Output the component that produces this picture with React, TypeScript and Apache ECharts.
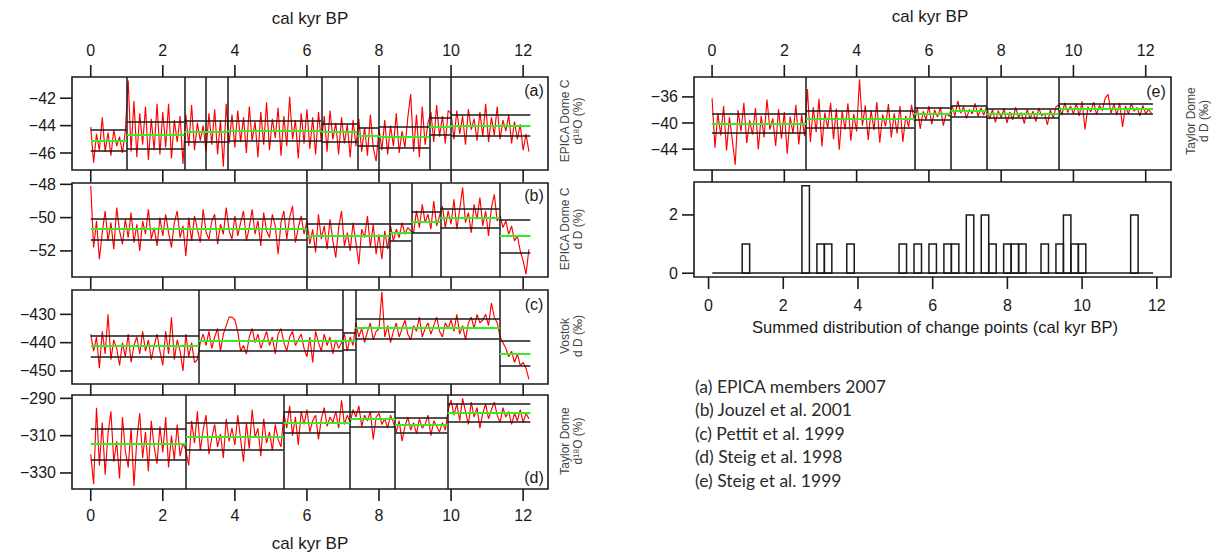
import React, { useEffect, useRef } from 'react';
import * as echarts from 'echarts';

const STEP = 0.08;
const END = 12.2;
const X_TICKS = [0, 2, 4, 6, 8, 10, 12];

// (a) EPICA Dome C d18O
const aRed = [
  -44.1, -46.7, -44.6, -45.8, -43.4, -45.9, -44.5, -46.2, -44.3, -45.5, -44.8, -46.0, -44.4, -40.7, -45.9, -42.2, -46.3, -43.1, -45.4, -42.6, -46.5, -43.5, -45.8, -42.4, -46.1,
  -43.0, -45.6, -42.4, -46.4, -43.6, -45.2, -43.3, -46.8, -43.2, -45.5, -42.5, -45.8, -43.8, -45.1, -44.0, -45.9, -43.1, -45.4, -42.8, -46.1, -43.6, -47.0, -42.4, -45.3, -43.2,
  -45.6, -42.9, -45.2, -43.4, -46.0, -42.6, -45.1, -43.7, -46.3, -43.0, -45.4, -42.3, -45.8, -43.5, -44.9, -42.7, -46.2, -43.3, -45.5, -41.9, -45.0, -43.6, -46.4, -43.1, -45.3,
  -42.8, -45.7, -43.4, -46.1, -43.0, -45.2, -43.3, -45.9, -42.9, -45.0, -43.8, -46.1, -43.4, -45.3, -43.9, -46.3, -43.6, -45.5, -43.5, -45.9, -44.1, -46.2, -43.2, -45.6, -46.6,
  -44.2, -45.8, -43.6, -46.1, -44.0, -45.5, -43.1, -46.0, -44.4, -45.6, -43.4, -41.7, -45.9, -43.2, -46.3, -42.6, -45.4, -43.8, -43.0, -45.2, -42.5, -44.8, -43.3, -45.3, -42.9,
  -43.1, -45.0, -42.9, -44.6, -43.3, -45.4, -42.8, -44.3, -43.5, -45.1, -43.0, -44.8, -42.4, -45.2, -43.4, -44.7, -42.6, -45.0, -43.6, -44.4, -43.2, -45.3, -43.7, -45.0, -43.9,
  -45.8, -44.6, -45.9,
];
const aBreaks = [1.0, 2.6, 3.2, 3.8, 6.4, 7.4, 8.0, 9.4, 10.0];
const aMean = [-45.07, -44.65, -44.45, -44.42, -44.4, -44.48, -44.77, -44.82, -44.09, -43.99];
const aUpper = [-44.33, -43.74, -43.67, -43.62, -43.67, -43.84, -44.16, -44.09, -43.45, -43.23];
const aLower = [-45.8, -45.68, -45.2, -45.15, -45.07, -45.19, -45.44, -45.6, -44.65, -44.72];

// (b) EPICA Dome C dD
const bRed = [
  -48.1, -51.8, -50.2, -52.5, -50.9, -49.6, -51.4, -50.3, -51.9, -49.4, -50.8, -51.6, -50.1, -51.2, -49.7, -51.5, -50.4, -52.0, -50.2, -51.0, -49.5, -51.3, -50.6, -51.7, -50.0,
  -51.1, -49.8, -50.9, -51.8, -50.3, -49.6, -51.2, -50.5, -52.3, -50.0, -51.4, -49.9, -50.7, -51.5, -49.5, -50.9, -51.3, -50.2, -49.8, -51.6, -50.4, -51.0, -49.4, -50.8, -51.3,
  -49.9, -51.1, -50.3, -49.6, -51.4, -50.6, -49.5, -51.0, -50.2, -51.7, -49.7, -50.8, -51.2, -49.8, -50.5, -52.2, -50.3, -49.6, -51.3, -50.0, -49.3, -51.5, -50.6, -49.9, -51.0,
  -50.2, -51.6, -50.7, -52.1, -49.8, -51.3, -50.5, -51.9, -50.1, -51.4, -52.4, -50.6, -49.6, -51.7, -50.9, -52.0, -50.3, -51.5, -52.8, -50.7, -51.2, -49.9, -51.8, -50.4, -52.2,
  -51.0, -52.5, -50.8, -51.9, -50.5, -51.4, -50.7, -51.2, -50.3, -51.0, -50.6, -50.8, -50.9, -49.6, -50.6, -49.2, -50.3, -49.8, -50.7, -49.0, -50.5, -49.9, -49.3, -50.6, -49.6,
  -50.4, -48.9, -50.7, -49.5, -48.2, -50.3, -49.7, -50.9, -49.2, -50.1, -48.8, -50.5, -49.6, -51.1, -49.4, -48.6, -50.2, -49.9, -50.6, -50.2, -51.0, -50.5, -51.4, -51.1, -52.0,
  -52.6, -53.4, -51.9,
];
const bBreaks = [6.0, 8.3, 8.9, 9.7, 11.35];
const bMean = [-50.65, -51.08, -50.9, -50.26, -50.0, -51.08];
const bUpper = [-50.04, -50.39, -50.35, -49.65, -49.45, -50.14];
const bLower = [-51.32, -51.77, -51.38, -50.89, -50.61, -52.13];

// (c) Vostok dD
const cRed = [
  -437, -443, -438, -449, -436, -444, -430, -446, -439, -442, -448, -440, -445, -437, -447, -441, -438, -444, -436, -443, -439, -446, -441, -437, -443,
  -448, -436, -444, -431, -446, -439, -443, -450, -437, -445, -440, -447, -446, -440, -437, -441, -436, -442, -438, -435, -443, -437, -434, -431, -431,
  -432, -436, -443, -441, -444, -438, -435, -440, -437, -442, -439, -436, -441, -438, -444, -437, -435, -440, -443, -438, -436, -441, -439, -437, -442,
  -445, -438, -447, -436, -440, -443, -437, -441, -438, -444, -439, -442, -440, -437, -443, -438, -441, -433, -438, -435, -440, -436, -433, -439, -436,
  -435, -422, -438, -434, -440, -436, -433, -438, -435, -432, -437, -439, -434, -436, -431, -438, -435, -433, -437, -434, -431, -436, -438, -433, -435,
  -432, -436, -430, -437, -434, -439, -433, -431, -435, -430, -433, -432, -430, -434, -426, -431, -433, -438, -440, -442, -445, -443, -447, -444, -448,
  -447, -449, -453,
];
const cBreaks = [3.0, 7.0, 7.35, 11.35];
const cMean = [-441.2, -439.2, -439.4, -434.9, -443.9];
const cUpper = [-437.4, -435.3, -436.5, -431.4, -439.2];
const cLower = [-445.1, -442.7, -442.4, -438.5, -448.2];

// (d) Taylor Dome d18O
const dRed = [
  -320, -336, -295, -326, -303, -331, -309, -297, -324, -313, -333, -300, -318, -327, -306, -337, -312, -298, -322, -308, -329, -302, -316, -325, -305,
  -319, -300, -327, -310, -323, -304, -321, -314, -318, -326, -302, -314, -297, -318, -307, -299, -320, -311, -304, -316, -309, -322, -301, -313, -306,
  -315, -299, -312, -324, -303, -317, -296, -311, -306, -321, -301, -314, -308, -318, -304, -312, -316, -298, -306, -294, -310, -300, -315, -297, -304,
  -296, -308, -302, -299, -312, -301, -295, -305, -300, -303, -297, -306, -291, -304, -299, -303, -296, -300, -294, -305, -299, -302, -297, -312, -300,
  -298, -304, -301, -306, -299, -303, -308, -302, -313, -305, -300, -307, -303, -309, -301, -306, -304, -299, -310, -302, -305, -308, -303, -307, -296,
  -291, -299, -293, -302, -290, -297, -304, -292, -300, -295, -306, -298, -293, -301, -296, -292, -299, -303, -295, -300, -297, -304, -298, -302, -296,
  -303, -298, -301,
];
const dBreaks = [2.65, 5.35, 7.2, 8.45, 9.9];
const dMean = [-314.4, -310.4, -302.9, -301.1, -304.1, -297.9];
const dUpper = [-306.4, -303.3, -297.2, -297.0, -300.2, -293.0];
const dLower = [-323.1, -317.5, -308.6, -305.4, -308.2, -302.7];

// (e) Taylor Dome dD
const eRed = [
  -36.2, -43.8, -38.5, -41.9, -37.4, -44.2, -39.1, -42.6, -46.4, -38.0, -41.3, -36.9, -43.1, -39.6, -41.8, -37.7, -44.0, -38.9, -42.2, -36.4, -41.0, -39.3, -43.5, -37.9, -42.4,
  -38.3, -44.7, -39.0, -41.6, -37.2, -43.3, -38.8, -42.0, -34.8, -42.9, -37.6, -41.4, -36.3, -43.6, -38.4, -40.8, -36.9, -42.5, -37.8, -44.1, -38.2, -41.0, -37.0, -42.7, -38.6,
  -41.3, -33.3, -40.4, -37.3, -42.6, -38.0, -41.1, -36.8, -43.0, -38.7, -40.5, -37.1, -42.2, -38.5, -41.6, -37.4, -42.9, -38.9, -40.6, -37.2, -39.8, -37.6, -40.9, -38.2, -39.5,
  -37.4, -40.2, -38.0, -39.1, -37.6, -40.4, -38.5, -39.0, -37.3, -38.9, -36.6, -38.5, -37.5, -39.3, -37.9, -38.6, -37.0, -39.0, -37.7, -38.8, -37.4, -39.4, -37.9, -39.9, -38.1,
  -39.2, -37.8, -40.0, -38.3, -39.5, -37.6, -39.1, -38.4, -40.1, -37.9, -39.3, -38.2, -39.8, -37.7, -38.9, -38.5, -40.3, -38.0, -39.2, -37.5, -37.2, -38.8, -36.9, -38.4, -37.4,
  -38.6, -37.0, -38.9, -36.7, -41.0, -37.5, -38.3, -36.8, -38.7, -37.3, -38.1, -36.2, -35.6, -38.5, -37.1, -38.8, -36.9, -40.6, -37.4, -38.6, -37.0, -38.2, -37.6, -38.9, -37.3,
  -38.6, -37.9, -38.5,
];
const eBreaks = [2.6, 5.6, 6.6, 7.6, 9.6];
const eMean = [-40.15, -39.39, -38.62, -38.1, -38.62, -37.86];
const eUpper = [-38.62, -38.11, -37.7, -37.35, -37.86, -37.09];
const eLower = [-41.53, -40.77, -39.49, -38.98, -39.23, -38.62];

// Summed distribution of change points
const histX = [1.0, 2.6, 3.0, 3.2, 3.8, 5.2, 5.6, 6.0, 6.4, 6.6, 7.0, 7.4, 7.6, 8.0, 8.2, 8.4, 9.0, 9.4, 9.6, 9.8, 10.0, 11.4];
const histN = [1, 3, 1, 1, 1, 1, 1, 1, 1, 1, 2, 2, 1, 1, 1, 1, 1, 1, 2, 1, 1, 2];
const HIST_BIN = 0.2;
const histBase = [0.1, 11.9];
const HIST_Y_TICKS = [0, 2];

const refs = [
  '(a) EPICA members 2007',
  '(b) Jouzel et al. 2001',
  '(c) Pettit et al. 1999',
  '(d) Steig et al. 1998',
  '(e) Steig et al. 1999',
];

const FONT = '"Liberation Sans", Arial, Helvetica, sans-serif';
const INK = '#1a1a1a';
const T = 12; // tick length in px
const TW = 1.6; // tick width in px

type Frame = { box: number[]; xr: number[]; yr: number[]; top: boolean; bottom: boolean; yt: number[] };

const panels = [
  { red: aRed, breaks: aBreaks, mean: aMean, upper: aUpper, lower: aLower, f: { box: [72, 77, 476, 93], xr: [-0.52, 12.69], yr: [-47.24, -40.45], yt: [-46, -44, -42], top: true, bottom: true } },
  { red: bRed, breaks: bBreaks, mean: bMean, upper: bUpper, lower: bLower, f: { box: [72, 183, 476, 94], xr: [-0.52, 12.69], yr: [-53.57, -47.92], yt: [-52, -50, -48], top: false, bottom: true } },
  { red: cRed, breaks: cBreaks, mean: cMean, upper: cUpper, lower: cLower, f: { box: [72, 290, 476, 94], xr: [-0.52, 12.69], yr: [-454.6, -421.4], yt: [-450, -440, -430], top: false, bottom: true } },
  { red: dRed, breaks: dBreaks, mean: dMean, upper: dUpper, lower: dLower, f: { box: [72, 395, 476, 94], xr: [-0.52, 12.69], yr: [-338.6, -288.2], yt: [-330, -310, -290], top: false, bottom: true } },
  { red: eRed, breaks: eBreaks, mean: eMean, upper: eUpper, lower: eLower, f: { box: [694, 77, 477, 93], xr: [-0.5, 12.7], yr: [-47.2, -32.95], yt: [-44, -40, -36], top: true, bottom: true } },
];
const histFrame: Frame = { box: [694, 182, 477, 95], xr: [-0.39, 12.38], yr: [-0.13, 3.13], yt: HIST_Y_TICKS, top: false, bottom: true };

const fmt = (v: number) => (v < 0 ? '\u2212' : '') + Math.abs(v);

function xAxis(grid: number, pos: string, labels: boolean, range: number[], margin: number) {
  return {
    type: 'value', gridIndex: grid, position: pos, min: range[0], max: range[1],
    axisLine: { show: false, onZero: false }, splitLine: { show: false }, axisTick: { show: false },
    axisLabel: { show: labels, customValues: X_TICKS, margin, fontSize: 16, color: INK, fontFamily: FONT, formatter: fmt },
  };
}
function yAxis(grid: number, range: number[], ticks: number[]) {
  return {
    type: 'value', gridIndex: grid, position: 'left', min: range[0], max: range[1],
    axisLine: { show: false, onZero: false }, splitLine: { show: false }, axisTick: { show: false },
    axisLabel: { show: true, customValues: ticks, margin: 16, fontSize: 16, color: INK, fontFamily: FONT, formatter: fmt },
  };
}
function linesSeries(xi: number, yi: number, data: any[], color: string, width: number, z = 3) {
  return {
    type: 'lines', coordinateSystem: 'cartesian2d', xAxisIndex: xi, yAxisIndex: yi, z, silent: true,
    lineStyle: { color, width, opacity: 1 }, data,
  };
}
function txt(text: string, x: number, y: number, size: number, o: any = {}) {
  return {
    type: 'text', x, y, rotation: o.rot || 0, silent: true, z: 100,
    style: { text, fontSize: size, fontFamily: o.family || FONT, fill: o.fill || INK, align: o.align || 'center', verticalAlign: 'middle' },
  };
}

// outward tick marks of each frame (axis furniture), as small filled rects
function tickElements() {
  const els: any[] = [];
  const frames: Frame[] = [...panels.map((p) => p.f), histFrame];
  frames.forEach((f) => {
    const [l, t, w, h] = f.box;
    const sx = (v: number) => l + ((v - f.xr[0]) / (f.xr[1] - f.xr[0])) * w;
    const sy = (v: number) => t + h - ((v - f.yr[0]) / (f.yr[1] - f.yr[0])) * h;
    if (f.bottom) X_TICKS.forEach((v) => els.push({ type: 'rect', silent: true, z: 90, shape: { x: sx(v) - TW / 2, y: t + h, width: TW, height: T }, style: { fill: INK } }));
    if (f.top) X_TICKS.forEach((v) => els.push({ type: 'rect', silent: true, z: 90, shape: { x: sx(v) - TW / 2, y: t - T, width: TW, height: T }, style: { fill: INK } }));
    f.yt.forEach((v) => els.push({ type: 'rect', silent: true, z: 90, shape: { x: l - T, y: sy(v) - TW / 2, width: T, height: TW }, style: { fill: INK } }));
  });
  return els;
}

function textElements() {
  const side = '#444';
  const els: any[] = [
    txt('cal kyr BP', 310, 18, 17),
    txt('cal kyr BP', 930, 16, 17),
    txt('cal kyr BP', 310, 543, 17),
    txt('Summed distribution of change points (cal kyr BP)', 935, 327, 16.5),
    txt('(a)', 534, 90, 16),
    txt('(b)', 534, 195, 16),
    txt('(c)', 534, 304, 16),
    txt('(d)', 534, 477, 16),
    txt('(e)', 1156, 91, 16),
    txt('EPICA Dome C', 565, 121, 12, { rot: Math.PI / 2, fill: side }),
    txt('d\u00b9\u2078O (%)', 577.5, 121, 12, { rot: Math.PI / 2, fill: side }),
    txt('EPICA Dome C', 565, 229, 12, { rot: Math.PI / 2, fill: side }),
    txt('d D (%)', 577.5, 229, 12, { rot: Math.PI / 2, fill: side }),
    txt('Vostok', 565, 336, 12, { rot: Math.PI / 2, fill: side }),
    txt('d D (\u2030)', 577.5, 336, 12, { rot: Math.PI / 2, fill: side }),
    txt('Taylor Dome', 565, 441, 12, { rot: Math.PI / 2, fill: side }),
    txt('d\u00b9\u2078O (%)', 577.5, 441, 12, { rot: Math.PI / 2, fill: side }),
    txt('Taylor Dome', 1191, 121, 12, { rot: Math.PI / 2, fill: side }),
    txt('d D (\u2030)', 1204, 121, 12, { rot: Math.PI / 2, fill: side }),
  ];
  refs.forEach((r, i) => {
    els.push(txt(r, 695, 386 + i * 23.6, 17.5, { align: 'left', family: 'Lato, "Open Sans", sans-serif', fill: '#2a2a2a' }));
  });
  return els;
}

function buildOption() {
  const frames: Frame[] = [...panels.map((p) => p.f), histFrame];
  const grids = frames.map((f) => ({ left: f.box[0], top: f.box[1], width: f.box[2], height: f.box[3], show: true, borderColor: INK, borderWidth: 1.6, backgroundColor: 'transparent' }));
  const xAxes: any[] = [];
  const yAxes: any[] = [];
  const series: any[] = [];

  const xIdx: number[] = [];
  xIdx[0] = xAxes.length; xAxes.push(xAxis(0, 'bottom', false, panels[0].f.xr, 18));
  xAxes.push(xAxis(0, 'top', true, panels[0].f.xr, 19));
  xIdx[1] = xAxes.length; xAxes.push(xAxis(1, 'bottom', false, panels[1].f.xr, 18));
  xIdx[2] = xAxes.length; xAxes.push(xAxis(2, 'bottom', false, panels[2].f.xr, 18));
  xIdx[3] = xAxes.length; xAxes.push(xAxis(3, 'bottom', true, panels[3].f.xr, 18));
  xIdx[4] = xAxes.length; xAxes.push(xAxis(4, 'bottom', false, panels[4].f.xr, 18));
  xAxes.push(xAxis(4, 'top', true, panels[4].f.xr, 19));
  const histXIdx = xAxes.length; xAxes.push(xAxis(5, 'bottom', true, histFrame.xr, 20));

  panels.forEach((p, k) => yAxes.push(yAxis(k, p.f.yr, p.f.yt)));
  yAxes.push(yAxis(5, histFrame.yr, HIST_Y_TICKS));

  panels.forEach((p, k) => {
    const xi = xIdx[k];
    const starts = [0, ...p.breaks];
    const ends = [...p.breaks, END];
    const seg = (vals: number[]) => vals.map((v, i) => ({ coords: [[starts[i], v], [ends[i], v]] }));
    series.push({
      type: 'line', xAxisIndex: xi, yAxisIndex: k, showSymbol: false, symbol: 'none', z: 2, silent: true,
      lineStyle: { color: '#ff0000', width: 1.15 },
      data: p.red.map((v, i) => [+(i * STEP).toFixed(2), v]),
    });
    series.push(linesSeries(xi, k, p.breaks.map((b) => ({ coords: [[b, p.f.yr[0]], [b, p.f.yr[1]]] })), INK, 1.5, 3));
    series.push(linesSeries(xi, k, [...seg(p.upper), ...seg(p.lower)], INK, 1.6, 3));
    series.push(linesSeries(xi, k, seg(p.mean), '#33ee22', 2, 4));
  });

  series.push({
    type: 'custom', xAxisIndex: histXIdx, yAxisIndex: 5, silent: true, z: 3,
    data: histX.map((x, i) => [x, histN[i]]),
    renderItem: (params: any, api: any) => {
      const x = api.value(0);
      const h = api.value(1);
      const p0 = api.coord([x - HIST_BIN / 2, h]);
      const p1 = api.coord([x + HIST_BIN / 2, 0]);
      return {
        type: 'rect',
        shape: { x: p0[0], y: p0[1], width: p1[0] - p0[0], height: p1[1] - p0[1] },
        style: { fill: 'transparent', stroke: INK, lineWidth: 1.5 },
      };
    },
  });
  series.push(linesSeries(histXIdx, 5, [{ coords: [[histBase[0], 0], [histBase[1], 0]] }], INK, 1.5, 3));

  return {
    animation: false,
    backgroundColor: '#ffffff',
    textStyle: { fontFamily: FONT },
    grid: grids,
    xAxis: xAxes,
    yAxis: yAxes,
    series,
    graphic: { elements: [...tickElements(), ...textElements()] },
  };
}

export default function App() {
  const ref = useRef<HTMLDivElement>(null);
  useEffect(() => {
    if (!ref.current) return;
    const chart = echarts.init(ref.current, undefined, { renderer: 'svg' });
    chart.setOption(buildOption() as any);
    return () => chart.dispose();
  }, []);
  return <div ref={ref} style={{ position: 'absolute', left: 0, top: 0, width: 1215, height: 554 }} />;
}
